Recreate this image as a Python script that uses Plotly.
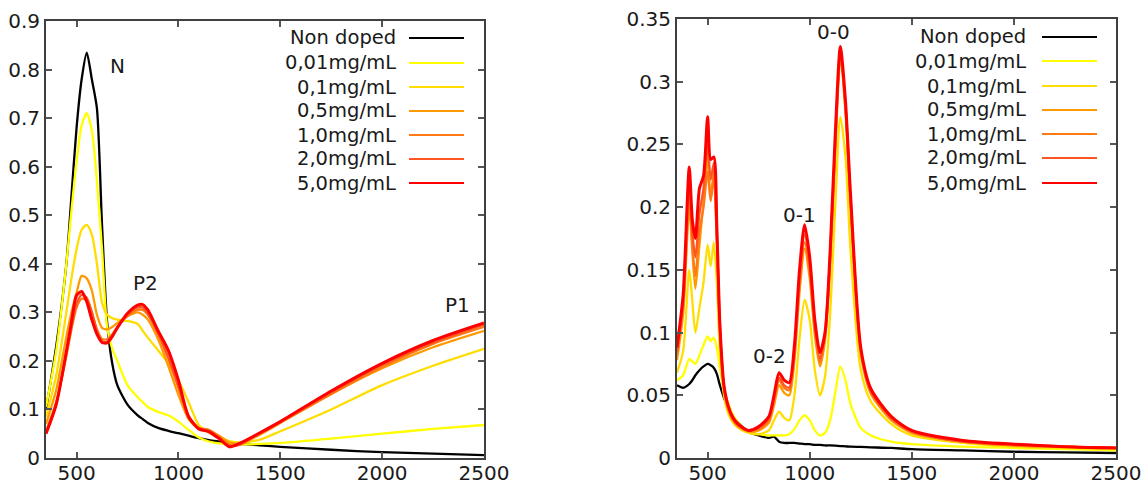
import plotly.graph_objects as go

# ---------------- data ----------------
series_names = ["Non doped", "0,01mg/mL", "0,1mg/mL", "0,5mg/mL", "1,0mg/mL", "2,0mg/mL", "5,0mg/mL"]
series_colors = ["#000000", "#ffff00", "#ffdd00", "#ff9900", "#ff7a14", "#ff5522", "#ff0000"]

# Left panel (wide range absorption)
x_left = [350, 400, 450, 475, 500, 525, 550, 575, 600, 625, 650, 675, 700, 750, 800, 825, 850, 900, 950,
          1000, 1050, 1100, 1150, 1200, 1250, 1300, 1400, 1500, 1750, 2000, 2250, 2500]
left_non_doped = [0.100, 0.230, 0.400, 0.540, 0.680, 0.780, 0.835, 0.780, 0.720, 0.480, 0.280, 0.195, 0.150, 0.110,
                  0.088, 0.080, 0.072, 0.062, 0.056, 0.051, 0.046, 0.041, 0.037, 0.034, 0.031, 0.029, 0.026, 0.023,
                  0.017, 0.012, 0.009, 0.006]
left_001 = [0.105, 0.220, 0.400, 0.510, 0.610, 0.685, 0.710, 0.675, 0.570, 0.430, 0.270, 0.225, 0.200, 0.150,
            0.125, 0.115, 0.105, 0.095, 0.088, 0.075, 0.058, 0.042, 0.034, 0.030, 0.029, 0.028, 0.029, 0.031,
            0.040, 0.050, 0.060, 0.068]
left_01 = [0.085, 0.170, 0.300, 0.370, 0.430, 0.470, 0.480, 0.460, 0.400, 0.320, 0.295, 0.288, 0.285, 0.282,
           0.276, 0.262, 0.248, 0.222, 0.195, 0.160, 0.115, 0.068, 0.052, 0.043, 0.035, 0.032, 0.038, 0.055,
           0.100, 0.150, 0.190, 0.225]
left_05 = [0.070, 0.140, 0.250, 0.300, 0.340, 0.375, 0.370, 0.345, 0.295, 0.268, 0.265, 0.270, 0.278, 0.292,
           0.300, 0.295, 0.285, 0.245, 0.190, 0.130, 0.080, 0.060, 0.057, 0.046, 0.032, 0.030, 0.048, 0.072,
           0.132, 0.185, 0.228, 0.262]
left_10 = [0.055, 0.115, 0.210, 0.265, 0.310, 0.328, 0.325, 0.300, 0.265, 0.245, 0.245, 0.255, 0.270, 0.292,
           0.305, 0.305, 0.295, 0.255, 0.205, 0.145, 0.085, 0.062, 0.058, 0.043, 0.027, 0.028, 0.050, 0.073,
           0.132, 0.188, 0.235, 0.270]
left_20 = [0.052, 0.112, 0.215, 0.270, 0.318, 0.336, 0.330, 0.300, 0.262, 0.240, 0.240, 0.252, 0.268, 0.295,
           0.310, 0.310, 0.298, 0.258, 0.208, 0.148, 0.087, 0.061, 0.056, 0.042, 0.025, 0.027, 0.051, 0.074,
           0.135, 0.192, 0.238, 0.275]
left_50 = [0.050, 0.110, 0.220, 0.280, 0.335, 0.343, 0.322, 0.285, 0.255, 0.238, 0.237, 0.250, 0.268, 0.298,
           0.315, 0.316, 0.305, 0.262, 0.222, 0.160, 0.085, 0.060, 0.054, 0.040, 0.023, 0.030, 0.052, 0.075,
           0.138, 0.195, 0.242, 0.278]

# Right panel (emission)
x_right = [350, 380, 410, 425, 440, 460, 480, 500, 515, 530, 545, 560, 580, 600, 625, 650, 700, 750, 800, 825,
           850, 875, 900, 925, 950, 975, 1000, 1025, 1050, 1075, 1100, 1125, 1150, 1175, 1200, 1250, 1300, 1400,
           1500, 1750, 2000, 2250, 2500]
right_non_doped = [0.058, 0.056, 0.059, 0.062, 0.066, 0.070, 0.073, 0.075, 0.074, 0.072, 0.067, 0.058, 0.048,
                   0.040, 0.033, 0.028, 0.021, 0.018, 0.016, 0.017, 0.013, 0.012, 0.012, 0.012, 0.0115, 0.011,
                   0.011, 0.0105, 0.0105, 0.010, 0.010, 0.0098, 0.0095, 0.0093, 0.009, 0.0088, 0.0085, 0.008,
                   0.007, 0.006, 0.005, 0.0045, 0.004]
right_001 = [0.062, 0.066, 0.079, 0.077, 0.075, 0.082, 0.090, 0.097, 0.093, 0.096, 0.088, 0.072, 0.055, 0.044,
             0.034, 0.028, 0.021, 0.019, 0.018, 0.018, 0.018, 0.018, 0.019, 0.023, 0.030, 0.034, 0.030, 0.022,
             0.018, 0.020, 0.030, 0.052, 0.073, 0.062, 0.043, 0.024, 0.018, 0.013, 0.011, 0.009, 0.008, 0.007,
             0.006]
right_01 = [0.068, 0.085, 0.150, 0.125, 0.100, 0.120, 0.140, 0.170, 0.153, 0.172, 0.140, 0.085, 0.050, 0.036,
            0.028, 0.024, 0.020, 0.019, 0.022, 0.030, 0.037, 0.032, 0.030, 0.050, 0.095, 0.126, 0.110, 0.070,
            0.050, 0.065, 0.115, 0.200, 0.272, 0.240, 0.165, 0.070, 0.045, 0.027, 0.018, 0.012, 0.009, 0.008,
            0.007]
right_05 = [0.078, 0.115, 0.200, 0.165, 0.135, 0.170, 0.205, 0.240, 0.205, 0.228, 0.172, 0.100, 0.055, 0.039,
            0.030, 0.025, 0.021, 0.022, 0.028, 0.042, 0.058, 0.052, 0.050, 0.078, 0.132, 0.167, 0.143, 0.098,
            0.073, 0.094, 0.153, 0.243, 0.318, 0.276, 0.200, 0.083, 0.051, 0.030, 0.020, 0.013, 0.010, 0.009,
            0.008]
right_10 = [0.082, 0.120, 0.210, 0.170, 0.145, 0.180, 0.200, 0.228, 0.205, 0.225, 0.175, 0.103, 0.056, 0.040,
            0.030, 0.026, 0.022, 0.023, 0.030, 0.045, 0.062, 0.056, 0.054, 0.082, 0.138, 0.172, 0.148, 0.102,
            0.076, 0.097, 0.158, 0.248, 0.322, 0.279, 0.204, 0.085, 0.052, 0.031, 0.021, 0.013, 0.010, 0.009,
            0.008]
right_20 = [0.085, 0.125, 0.220, 0.180, 0.160, 0.195, 0.215, 0.250, 0.222, 0.235, 0.180, 0.105, 0.057, 0.041,
            0.031, 0.026, 0.022, 0.024, 0.031, 0.047, 0.064, 0.058, 0.056, 0.085, 0.143, 0.178, 0.153, 0.105,
            0.079, 0.100, 0.162, 0.252, 0.325, 0.282, 0.207, 0.086, 0.053, 0.032, 0.021, 0.013, 0.011, 0.009,
            0.008]
right_50 = [0.088, 0.130, 0.232, 0.190, 0.175, 0.215, 0.225, 0.272, 0.238, 0.240, 0.185, 0.107, 0.058, 0.042,
            0.032, 0.027, 0.022, 0.025, 0.033, 0.050, 0.068, 0.062, 0.060, 0.090, 0.150, 0.186, 0.160, 0.110,
            0.084, 0.100, 0.165, 0.258, 0.328, 0.285, 0.210, 0.088, 0.055, 0.033, 0.022, 0.014, 0.011, 0.009,
            0.008]

x_ticks = [500, 1000, 1500, 2000, 2500]
left_y_ticks = [0, 0.1, 0.2, 0.3, 0.4, 0.5, 0.6, 0.7, 0.8, 0.9]
left_y_labels = ["0", "0.1", "0.2", "0.3", "0.4", "0.5", "0.6", "0.7", "0.8", "0.9"]
right_y_ticks = [0, 0.05, 0.1, 0.15, 0.2, 0.25, 0.3, 0.35]
right_y_labels = ["0", "0.05", "0.1", "0.15", "0.2", "0.25", "0.3", "0.35"]

left_labels = [("N", 703, 0.807), ("P2", 836, 0.360), ("P1", 2372, 0.315)]
right_labels = [("0-0", 1114, 0.340), ("0-1", 952, 0.194), ("0-2", 805, 0.081)]

# ---------------- figure ----------------
W, H = 1148, 485
FONT = "DejaVu Sans"
TICK_SIZE = 20
TEXT_SIZE = 19.5
fig = go.Figure()

left_series = [left_non_doped, left_001, left_01, left_05, left_10, left_20, left_50]
right_series = [right_non_doped, right_001, right_01, right_05, right_10, right_20, right_50]

for i, (name, color) in enumerate(zip(series_names, series_colors)):
    width = 3 if i == 6 else 2.3
    fig.add_trace(go.Scatter(x=x_left, y=left_series[i], mode="lines", name=name,
                             line=dict(color=color, width=width, shape="spline", smoothing=0.7),
                             xaxis="x", yaxis="y", showlegend=False))
for i, (name, color) in enumerate(zip(series_names, series_colors)):
    width = 3 if i == 6 else 2.3
    fig.add_trace(go.Scatter(x=x_right, y=right_series[i], mode="lines", name=name,
                             line=dict(color=color, width=width, shape="spline", smoothing=0.7),
                             xaxis="x2", yaxis="y2", showlegend=False))

axis_common = dict(showline=True, linecolor="#404040", linewidth=2, mirror="ticks",
                   ticks="inside", ticklen=6, tickwidth=1.5, tickcolor="#555555",
                   showgrid=False, zeroline=False, automargin=False,
                   tickfont=dict(family=FONT, size=TICK_SIZE, color="#1a1a1a"))

fig.update_layout(
    width=W, height=H, autosize=False,
    margin=dict(l=0, r=0, t=0, b=0, pad=0, autoexpand=False),
    paper_bgcolor="white", plot_bgcolor="white",
    font=dict(family=FONT, size=TICK_SIZE, color="#1a1a1a"),
    xaxis=dict(domain=[46 / W, 484 / W], range=[350, 2500], tickvals=x_ticks,
               anchor="y", ticklabelstandoff=-4, **axis_common),
    yaxis=dict(domain=[1 - 458 / H, 1 - 21 / H], range=[0, 0.9], tickvals=left_y_ticks,
               ticktext=left_y_labels, anchor="x", **axis_common),
    xaxis2=dict(domain=[677 / W, 1116 / W], range=[350, 2500], tickvals=x_ticks,
                anchor="y2", ticklabelstandoff=-4, **axis_common),
    yaxis2=dict(domain=[1 - 458 / H, 1 - 19 / H], range=[0, 0.35], tickvals=right_y_ticks,
                ticktext=right_y_labels, anchor="x2", **axis_common),
)

annotations = []
for txt, xv, yv in left_labels:
    annotations.append(dict(text=txt, x=xv, y=yv, xref="x", yref="y", showarrow=False,
                            font=dict(family=FONT, size=TICK_SIZE, color="#1a1a1a")))
for txt, xv, yv in right_labels:
    annotations.append(dict(text=txt, x=xv, y=yv, xref="x2", yref="y2", showarrow=False,
                            font=dict(family=FONT, size=TICK_SIZE, color="#1a1a1a")))

# manual legends (text right-aligned, sample line on the right)
shapes = []
legend_specs = [
    dict(text_right=398, line_x0=409, line_x1=464, row_y=[38, 63, 87, 111, 135, 159, 183]),
    dict(text_right=1028, line_x0=1042, line_x1=1097, row_y=[37, 61, 86, 110, 134, 158, 183]),
]
for spec in legend_specs:
    for i, (name, color) in enumerate(zip(series_names, series_colors)):
        yp = 1 - spec["row_y"][i] / H
        annotations.append(dict(text=name, x=spec["text_right"] / W, y=yp, xref="paper", yref="paper",
                                xanchor="right", yanchor="middle", showarrow=False,
                                font=dict(family=FONT, size=TEXT_SIZE, color="#1a1a1a")))
        shapes.append(dict(type="line", xref="paper", yref="paper",
                           x0=spec["line_x0"] / W, x1=spec["line_x1"] / W, y0=yp, y1=yp,
                           line=dict(color=color, width=2.2)))

fig.update_layout(annotations=annotations, shapes=shapes)

fig.write_html("out.html", config={"displayModeBar": False},
               post_script="document.documentElement.style.margin='0';"
                           "document.body.style.margin='0';document.body.style.overflow='hidden';")
